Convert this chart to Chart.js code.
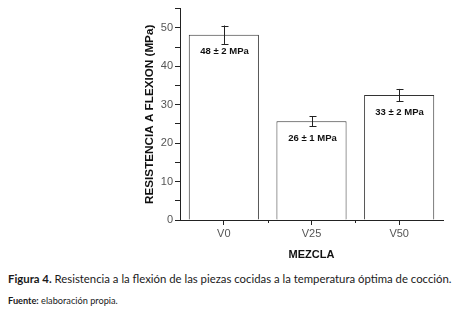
<!DOCTYPE html>
<html>
<head>
<meta charset="utf-8">
<script src="https://cdn.jsdelivr.net/npm/chart.js@4/dist/chart.umd.min.js"></script>
<style>
  html, body { margin: 0; padding: 0; background: #fff; }
  #wrap { position: relative; width: 459px; height: 262px; }
  .caption { font-family: Lato, sans-serif; color: #1a1a1a; margin: 0; white-space: nowrap; }
  #cap1 { position: absolute; left: 8px; top: 272px; font-size: 11.35px; }
  #cap2 { position: absolute; left: 8px; top: 295px; font-size: 9.2px; }
</style>
</head>
<body>
<div id="wrap"><canvas id="chart" width="459" height="262"></canvas></div>
<p class="caption" id="cap1"><b>Figura 4.</b> Resistencia a la flexión de las piezas cocidas a la temperatura óptima de cocción.</p>
<p class="caption" id="cap2"><b>Fuente:</b> elaboración propia.</p>
<script>
const mezclas = ['V0', 'V25', 'V50'];
const resistencia = [48.2, 25.7, 32.5];
const errores = [2.4, 1.3, 1.6];
const etiquetas = ['48 ± 2 MPa', '26 ± 1 MPa', '33 ± 2 MPa'];

// error bars + labels inside the bars
const extras = {
    id: 'extras',
    afterDatasetsDraw(chart) {
        let ctx = chart.ctx;
        let x = chart.scales.x, y = chart.scales.y;
        ctx.save();
        ctx.strokeStyle = '#222';
        ctx.lineWidth = 1;
        resistencia.forEach((v, i) => {
            let px = Math.round(x.getPixelForValue(i)) + 0.5;
            let top = y.getPixelForValue(v + errores[i]);
            let bot = y.getPixelForValue(v - errores[i]);
            ctx.beginPath();
            ctx.moveTo(px, top); ctx.lineTo(px, bot);
            ctx.moveTo(px - 3, Math.round(top) + 0.5); ctx.lineTo(px + 4, Math.round(top) + 0.5);
            ctx.moveTo(px - 3, Math.round(bot) + 0.5); ctx.lineTo(px + 4, Math.round(bot) + 0.5);
            ctx.stroke();
            ctx.fillStyle = '#111';
            ctx.font = 'bold 9.5px "Liberation Sans", Arial, sans-serif';
            ctx.textAlign = 'center';
            ctx.textBaseline = 'middle';
            ctx.fillText(etiquetas[i], px, y.getPixelForValue(v) + 17);
        });
        // minor ticks between categories
        for (let i = 0; i < mezclas.length - 1; i++) {
            let bx = Math.round((x.getPixelForValue(i) + x.getPixelForValue(i + 1)) / 2) + 0.5;
            ctx.beginPath();
            ctx.moveTo(bx, chart.chartArea.bottom); ctx.lineTo(bx, chart.chartArea.bottom + 3);
            ctx.stroke();
        }
        ctx.restore();
    }
};

new Chart(document.getElementById('chart'), {
    type: 'bar',
    data: {
        labels: mezclas,
        datasets: [{
            data: resistencia,
            backgroundColor: '#ffffff',
            borderColor: '#333333',
            borderWidth: 1,
            categoryPercentage: 0.8,
            barPercentage: 1.0
        }]
    },
    options: {
        responsive: false,
        animation: false,
        layout: { padding: { left: 143, top: 8, right: 16, bottom: 0 } },
        plugins: { legend: { display: false }, tooltip: { enabled: false } },
        scales: {
            x: {
                grid: { display: true, drawOnChartArea: false, offset: false, tickLength: 5, color: '#222' },
                border: { color: '#222', width: 1 },
                ticks: { color: '#555', font: { family: '"Liberation Sans", Arial, sans-serif', size: 11 }, padding: 2 },
                title: { display: true, text: 'MEZCLA', color: '#111', font: { family: '"Liberation Sans", Arial, sans-serif', size: 11, weight: 'bold' }, padding: { top: 4, bottom: 0 } },
                afterFit: s => { s.height = 42; }
            },
            y: {
                min: 0, max: 55,
                grid: { display: true, drawOnChartArea: false, tickLength: 5, color: '#222' },
                border: { color: '#222', width: 1 },
                ticks: {
                    stepSize: 5,
                    color: '#555',
                    font: { family: '"Liberation Sans", Arial, sans-serif', size: 11 },
                    padding: 2,
                    callback: v => (v % 10 === 0 ? v : '')
                },
                title: { display: true, text: 'RESISTENCIA A FLEXION (MPa)', color: '#111', font: { family: '"Liberation Sans", Arial, sans-serif', size: 11.7, weight: 'bold' }, padding: { top: 0, bottom: 6 } },
                afterFit: s => { s.width = 37; }
            }
        }
    },
    plugins: [extras]
});
</script>
</body>
</html>
